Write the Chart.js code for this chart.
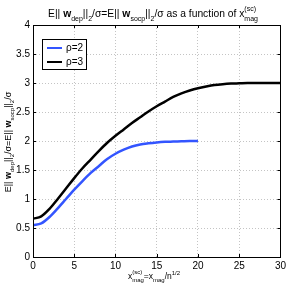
<!DOCTYPE html>
<html><head><meta charset="utf-8">
<script src="https://cdn.jsdelivr.net/npm/chart.js@4"></script>
<style>html,body{margin:0;padding:0;background:#fff}canvas{display:block}</style>
</head><body>
<canvas id="c" width="289" height="289"></canvas>
<script>
const xValues2 = [0,1,2,3,4,5,6,7,8,9,10,11,12,13,14,15,16,17,18,19,20];
const rho2 = [0.55,0.58,0.69,0.84,1.00,1.16,1.31,1.45,1.57,1.69,1.78,1.85,1.905,1.94,1.96,1.975,1.985,1.99,1.995,2.0,2.0];
const xValues3 = [0,1,2,3,4,5,6,7,8,9,10,11,12,13,14,15,16,17,18,19,20,21,22,23,24,25,26,27,28,29,30];
const rho3 = [0.66,0.70,0.83,1.00,1.18,1.36,1.53,1.68,1.83,1.97,2.09,2.20,2.31,2.41,2.51,2.60,2.68,2.76,2.82,2.87,2.91,2.94,2.965,2.98,2.99,2.995,3.0,3.0,3.0,3.0,3.0];
const seriesLabels = ['\u03c1=2','\u03c1=3'];
const seriesColors = ['#3355ff','#000000'];
const xTicks = [0,5,10,15,20,25,30];
const yTicks = [0,0.5,1,1.5,2,2.5,3,3.5,4];

const FONT = 'Liberation Sans, Arial, sans-serif';

function drawRich(ctx, parts, x, y, size, align, rot) {
  const small = Math.round(size*0.72);
  const fontOf = (p, s) => (p.b ? 'bold ' : '') + s + 'px ' + FONT;
  let total = 0;
  const widths = parts.map(p => {
    let w;
    if (p.m === 'n') { ctx.font = fontOf(p, size); w = ctx.measureText(p.t).width; }
    else if (p.m === 'ss') { ctx.font = fontOf(p, small); w = Math.max(ctx.measureText(p.t).width, ctx.measureText(p.u).width); }
    else { ctx.font = fontOf(p, small); w = ctx.measureText(p.t).width; }
    total += w; return w;
  });
  ctx.save();
  ctx.translate(x, y);
  if (rot) ctx.rotate(rot);
  let cx = align === 'center' ? -total/2 : 0;
  ctx.fillStyle = '#000';
  ctx.textBaseline = 'alphabetic';
  ctx.textAlign = 'left';
  parts.forEach((p, i) => {
    if (p.m === 'n') { ctx.font = fontOf(p, size); ctx.fillText(p.t, cx, 0); }
    else if (p.m === 'sub') { ctx.font = fontOf(p, small); ctx.fillText(p.t, cx, size*0.35); }
    else if (p.m === 'sup') { ctx.font = fontOf(p, small); ctx.fillText(p.t, cx, -size*0.5); }
    else if (p.m === 'ss') { ctx.font = fontOf(p, small); ctx.fillText(p.t, cx, size*0.35); ctx.fillText(p.u, cx, -size*0.55); }
    cx += widths[i];
  });
  ctx.restore();
}

const titleParts = [
  {t:'E|| ',m:'n'},{t:'w',m:'n',b:true},{t:'dep',m:'sub'},{t:'||',m:'n'},{t:'2',m:'sub'},
  {t:'/\u03c3=E|| ',m:'n'},{t:'w',m:'n',b:true},{t:'socp',m:'sub'},{t:'||',m:'n'},{t:'2',m:'sub'},
  {t:'/\u03c3 as a function of x',m:'n'},{t:'mag',u:'(sc)',m:'ss'}
];
const yLabelParts = [
  {t:'E|| ',m:'n'},{t:'w',m:'n',b:true},{t:'dep',m:'sub'},{t:'||',m:'n'},{t:'2',m:'sub'},
  {t:'/\u03c3=E|| ',m:'n'},{t:'w',m:'n',b:true},{t:'socp',m:'sub'},{t:'||',m:'n'},{t:'2',m:'sub'},
  {t:'/\u03c3',m:'n'}
];
const xLabelParts = [
  {t:'x',m:'n'},{t:'mag',u:'(sc)',m:'ss'},{t:'=x',m:'n'},{t:'mag',m:'sub'},{t:'/n',m:'n'},{t:'1/2',m:'sup'}
];

const decor = {
  id: 'decor',
  afterDraw(chart) {
    const ctx = chart.ctx, a = chart.chartArea;
    const xs = chart.scales.x, ys = chart.scales.y;
    ctx.save();
    ctx.strokeStyle = '#000'; ctx.lineWidth = 1;
    ctx.strokeRect(Math.round(a.left)+0.5, Math.round(a.top)+0.5, Math.round(a.right-a.left), Math.round(a.bottom-a.top));
    ctx.beginPath();
    xTicks.forEach(v => { const px = Math.round(xs.getPixelForValue(v))+0.5;
      ctx.moveTo(px, a.bottom); ctx.lineTo(px, a.bottom-3);
      ctx.moveTo(px, a.top); ctx.lineTo(px, a.top+3); });
    yTicks.forEach(v => { const py = Math.round(ys.getPixelForValue(v))+0.5;
      ctx.moveTo(a.left, py); ctx.lineTo(a.left+3, py);
      ctx.moveTo(a.right, py); ctx.lineTo(a.right-3, py); });
    ctx.stroke();
    // legend
    const lx = 42, ly = 39, lw = 44, lh = 30;
    ctx.fillStyle = '#fff'; ctx.fillRect(lx, ly, lw, lh);
    ctx.strokeRect(lx+0.5, ly+0.5, lw, lh);
    ctx.font = '10px ' + FONT; ctx.textBaseline = 'middle'; ctx.fillStyle = '#000';
    seriesLabels.forEach((lab, i) => {
      const yy = ly + 9 + i*14;
      ctx.strokeStyle = seriesColors[i]; ctx.lineWidth = 2;
      ctx.beginPath(); ctx.moveTo(lx+5, yy); ctx.lineTo(lx+20, yy); ctx.stroke();
      ctx.fillText(lab, lx+24, yy);
    });
    ctx.restore();
    drawRich(ctx, titleParts, 153, 17, 10.3, 'center');
    drawRich(ctx, yLabelParts, 11, 142, 9, 'center', -Math.PI/2);
    drawRich(ctx, xLabelParts, 154, 279, 8.5, 'center');
  }
};

new Chart(document.getElementById('c'), {
  type: 'line',
  data: {
    datasets: [
      {label: seriesLabels[0], data: rho2.map((v,i)=>({x:xValues2[i], y:v})), borderColor: seriesColors[0], borderWidth: 2.5, pointRadius: 0, cubicInterpolationMode: 'monotone', fill: false},
      {label: seriesLabels[1], data: rho3.map((v,i)=>({x:xValues3[i], y:v})), borderColor: seriesColors[1], borderWidth: 2.5, pointRadius: 0, cubicInterpolationMode: 'monotone', fill: false}
    ]
  },
  options: {
    responsive: false, animation: false,
    layout: {padding: {top: 25, right: 7, left: 0, bottom: 0}},
    plugins: {legend: {display: false}, tooltip: {enabled: false}},
    scales: {
      x: {type: 'linear', min: 0, max: 30,
        afterBuildTicks: s => { s.ticks = xTicks.map(v=>({value:v})); },
        afterFit: s => { s.height = 32; },
        ticks: {color:'#000', font:{family:FONT, size:10}, padding: 3, maxRotation: 0, callback: v => String(v)},
        grid: {color:'#c4c4c4', drawTicks:false, lineWidth:1},
        border: {display:false, dash:[1,2]}
      },
      y: {type: 'linear', min: 0, max: 4,
        afterBuildTicks: s => { s.ticks = yTicks.map(v=>({value:v})); },
        afterFit: s => { s.width = 33; },
        ticks: {color:'#000', font:{family:FONT, size:10}, padding: 3, callback: v => String(v)},
        grid: {color:'#c4c4c4', drawTicks:false, lineWidth:1},
        border: {display:false, dash:[1,2]}
      }
    }
  },
  plugins: [decor]
});
</script>
</body></html>
